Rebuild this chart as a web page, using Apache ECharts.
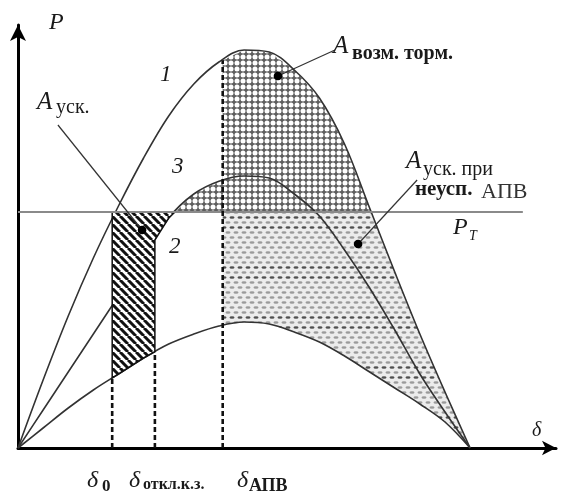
<!DOCTYPE html>
<html>
<head>
<meta charset="utf-8">
<script src="https://cdn.jsdelivr.net/npm/echarts@6/dist/echarts.min.js"></script>
<style>
  html, body { margin: 0; padding: 0; background: #fff; }
  #chart { width: 564px; height: 499px; }
</style>
</head>
<body>
<div id="chart"></div>
<script>
// Power–angle characteristics P(δ) of a generator:
// 1 – normal circuit, 3 – after fault clearing, 2 – during the fault.
const deltaDeg = [0, 10, 20, 30, 40, 50, 60, 70, 80, 90, 100, 110, 120, 130, 140, 150, 160, 170, 180];
const curveNormal    = [0, 0.17, 0.33, 0.475, 0.605, 0.725, 0.83, 0.91, 0.965, 0.995, 0.99, 0.945, 0.875, 0.76, 0.60, 0.44, 0.285, 0.14, 0];
const curvePostFault = [0, 0.095, 0.19, 0.285, 0.38, 0.475, 0.575, 0.635, 0.667, 0.68, 0.675, 0.635, 0.58, 0.495, 0.40, 0.295, 0.185, 0.09, 0];
const curveFault     = [0, 0.05, 0.10, 0.145, 0.185, 0.225, 0.26, 0.285, 0.305, 0.315, 0.31, 0.29, 0.265, 0.23, 0.19, 0.15, 0.11, 0.065, 0];

// Turbine power and the span of its line
const turbinePower = 0.59;
const turbineSpan = [0, 201];

// δ0, δ at fault clearing, δ at auto-reclosing
const switchAngles = [37.5, 54.5, 81.5];

// Callout leaders: dot inside each area -> end near its caption
const calloutDots = [[49.4, 0.545], [103.5, 0.93], [135.4, 0.51]];
const calloutEnds = [[15.9, 0.8075], [126.2, 0.995], [158.9, 0.67]];

function valueAt(curve, d) {
  for (let i = 0; i < deltaDeg.length - 1; i++) {
    if (d >= deltaDeg[i] && d <= deltaDeg[i + 1]) {
      const t = (d - deltaDeg[i]) / (deltaDeg[i + 1] - deltaDeg[i]);
      return curve[i] + (curve[i + 1] - curve[i]) * t;
    }
  }
  return 0;
}
function crossing(curve, level, from, to) {
  for (let i = 0; i < deltaDeg.length - 1; i++) {
    if (deltaDeg[i] < from || deltaDeg[i + 1] > to) continue;
    const a = curve[i] - level, b = curve[i + 1] - level;
    if (a * b <= 0 && a !== b) return deltaDeg[i] + (deltaDeg[i + 1] - deltaDeg[i]) * a / (a - b);
  }
  return from;
}
function pointsBetween(curve, d1, d2) {
  const pts = [];
  deltaDeg.forEach((d, i) => {
    if (d > Math.min(d1, d2) && d < Math.max(d1, d2)) pts.push([d, curve[i]]);
  });
  return d1 < d2 ? pts : pts.reverse();
}

const [d0, dOff, dAr] = switchAngles;
const PT = turbinePower;
const d3 = crossing(curvePostFault, PT, 0, 90);
const d1 = crossing(curveNormal, PT, 90, 180);

const regionAccel = [[d0, PT], [d3, PT], ...pointsBetween(curvePostFault, d3, dOff),
  [dOff, valueAt(curvePostFault, dOff)], [dOff, valueAt(curveFault, dOff)],
  ...pointsBetween(curveFault, dOff, d0), [d0, valueAt(curveFault, d0)]];
const regionBrake = [[d3, PT], ...pointsBetween(curvePostFault, d3, dAr),
  [dAr, valueAt(curvePostFault, dAr)], [dAr, valueAt(curveNormal, dAr)],
  ...pointsBetween(curveNormal, dAr, d1), [d1, PT]];
const regionReaccel = [[dAr, valueAt(curveFault, dAr)], [dAr, PT], [d1, PT],
  ...pointsBetween(curveNormal, d1, 180), [180, valueAt(curveNormal, 180)],
  ...pointsBetween(curveFault, 180, dAr)];

// Fill patterns
function makeTile(w, h, draw) {
  const c = document.createElement('canvas');
  c.width = w; c.height = h;
  draw(c.getContext('2d'), w, h);
  return c;
}
const hatchTile = makeTile(8, 8, (g) => {
  g.fillStyle = '#fff'; g.fillRect(0, 0, 8, 8);
  g.strokeStyle = '#111'; g.lineWidth = 3;
  g.beginPath();
  [-8, 0, 8].forEach(k => { g.moveTo(k, 0); g.lineTo(k + 8, 8); });
  g.stroke();
});
const meshTile = makeTile(6, 6, (g) => {
  g.fillStyle = '#5e5e5e'; g.fillRect(0, 0, 6, 6);
  g.fillStyle = '#fff';
  g.beginPath(); g.arc(3, 3, 2.5, 0, Math.PI * 2); g.fill();
});
const dotTile = makeTile(8, 50, (g) => {
  g.fillStyle = '#ececec'; g.fillRect(0, 0, 8, 50);
  for (let i = 0; i < 10; i++) {
    const y = 2.5 + 5 * i;
    const xs = i % 2 ? [0, 8] : [4];
    g.fillStyle = (i === 3 || i === 5) ? '#505050' : '#9a9a9a';
    xs.forEach(x => { g.beginPath(); g.ellipse(x, y, 2.5, 1.2, 0, 0, Math.PI * 2); g.fill(); });
  }
});

const shadedRegions = [
  { pts: regionReaccel, fill: { image: dotTile, repeat: 'repeat' } },
  { pts: regionBrake, fill: { image: meshTile, repeat: 'repeat' } }
];
const hatchedRegions = [
  { pts: regionAccel, fill: { image: hatchTile, repeat: 'repeat' }, stroke: '#111', lw: 1.5 }
];

function regionRenderer(list) {
  return (params, api) => {
    const r = list[params.dataIndex];
    return {
      type: 'polygon',
      shape: { points: r.pts.map(p => api.coord(p)) },
      style: { fill: r.fill, stroke: r.stroke || null, lineWidth: r.lw || 0 }
    };
  };
}

const verticals = [
  [d0, valueAt(curveFault, d0)],
  [dOff, valueAt(curveFault, dOff)],
  [dAr, valueAt(curveNormal, dAr)]
];

const ink = '#1a1a1a';
const serif = '"Liberation Serif", "DejaVu Serif", serif';
function label(text, x, y, font, fill) {
  return {
    type: 'text', x: x, y: y, silent: true, z: 20,
    style: { text: text, font: font + ' ' + serif, fill: fill || ink,
             verticalAlign: 'middle', textVerticalAlign: 'middle' }
  };
}

function curveSeries(curve) {
  return {
    type: 'line', z: 3, smooth: 0.35, symbol: 'none', silent: true,
    data: deltaDeg.map((d, i) => [d, curve[i]]),
    lineStyle: { color: '#333', width: 1.6 }
  };
}

const chart = echarts.init(document.getElementById('chart'), null, { renderer: 'canvas' });
chart.setOption({
  animation: false,
  backgroundColor: '#fff',
  grid: { left: 18, top: 25, width: 538, height: 423 },
  xAxis: {
    type: 'value', min: 0, max: 214.2,
    axisLine: { onZero: true, symbol: ['none', 'arrow'], symbolSize: [11, 14],
                lineStyle: { color: '#000', width: 3 } },
    axisTick: { show: false }, axisLabel: { show: false }, splitLine: { show: false }
  },
  yAxis: {
    type: 'value', min: 0, max: 1.0575,
    axisLine: { onZero: true, symbol: ['none', 'arrow'], symbolSize: [12, 16],
                lineStyle: { color: '#000', width: 3 } },
    axisTick: { show: false }, axisLabel: { show: false }, splitLine: { show: false }
  },
  series: [
    {
      type: 'custom', silent: true, z: 1,
      data: shadedRegions.map((r, i) => [i, 0]),
      renderItem: regionRenderer(shadedRegions)
    },
    curveSeries(curveNormal),
    curveSeries(curvePostFault),
    curveSeries(curveFault),
    {
      type: 'custom', silent: true, z: 4,
      data: hatchedRegions.map((r, i) => [i, 0]),
      renderItem: regionRenderer(hatchedRegions)
    },
    {
      type: 'line', z: 5, symbol: 'none', silent: true,
      data: turbineSpan.map(d => [d, PT]),
      lineStyle: { color: '#8a8a8a', width: 2 }
    },
    {
      type: 'custom', silent: true, z: 6,
      data: verticals,
      renderItem: (params, api) => {
        const top = api.coord([api.value(0), api.value(1)]);
        const bottom = api.coord([api.value(0), 0]);
        return {
          type: 'line',
          shape: { x1: bottom[0], y1: bottom[1], x2: top[0], y2: top[1] },
          style: { stroke: '#111', lineWidth: 2.6, lineDash: [5, 3] }
        };
      }
    },
    {
      type: 'custom', silent: true, z: 7,
      data: calloutDots.map((p, i) => [p[0], p[1], calloutEnds[i][0], calloutEnds[i][1]]),
      renderItem: (params, api) => {
        const a = api.coord([api.value(0), api.value(1)]);
        const b = api.coord([api.value(2), api.value(3)]);
        return {
          type: 'group',
          children: [
            { type: 'line', shape: { x1: a[0], y1: a[1], x2: b[0], y2: b[1] },
              style: { stroke: '#333', lineWidth: 1.2 } },
            { type: 'circle', shape: { cx: a[0], cy: a[1], r: 4.3 }, style: { fill: '#000' } }
          ]
        };
      }
    }
  ],
  graphic: [
    label('P', 49, 23, 'italic 24px'),
    label('1', 160, 75, 'italic 23px'),
    label('3', 172, 167, 'italic 23px'),
    label('2', 169, 247, 'italic 23px'),
    label('A', 37, 102, 'italic 25px'),
    label('уск.', 56, 108, '20px'),
    label('A', 333, 46, 'italic 25px'),
    label('возм. торм.', 352, 54, 'bold 20px'),
    label('A', 406, 161, 'italic 25px'),
    label('уск. при', 423, 170, '20px'),
    label('неусп.', 415, 190, 'bold 21px'),
    label('АПВ', 481, 192, '22px', '#333'),
    label('P', 453, 228, 'italic 24px'),
    label('T', 469, 236, 'italic 14px'),
    label('δ', 532, 431, 'italic 20px'),
    label('δ', 87, 481, 'italic 24px'),
    label('0', 102, 487, 'bold 17px'),
    label('δ', 129, 481, 'italic 24px'),
    label('откл.к.з.', 143, 485, 'bold 16px'),
    label('δ', 237, 481, 'italic 24px'),
    label('АПВ', 249, 486, 'bold 18px')
  ]
});
</script>
</body>
</html>
